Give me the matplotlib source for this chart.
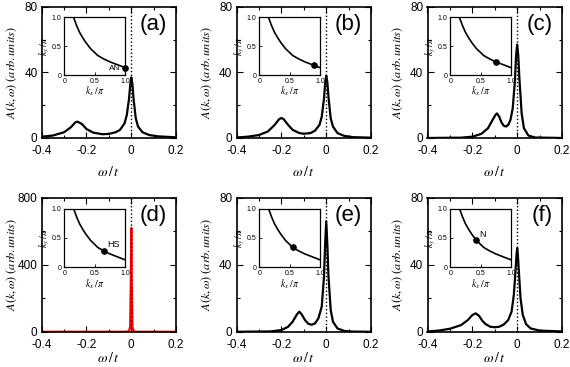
import matplotlib
matplotlib.use("Agg")
import matplotlib.pyplot as plt
from matplotlib.ticker import MultipleLocator

plt.rcParams["font.family"] = ["Liberation Sans", "DejaVu Sans"]
plt.rcParams["mathtext.fontset"] = "stix"

# spectral functions: (omega/t, A)
w_a = [-0.4, -0.35, -0.3, -0.27, -0.25, -0.24, -0.22, -0.2, -0.17, -0.13, -0.1, -0.07,
       -0.05, -0.03, -0.02, -0.01, -0.005, 0.0, 0.005, 0.01, 0.02, 0.03, 0.05, 0.08, 0.12, 0.2]
A_a = [0.8, 1.5, 3.5, 6.5, 9.5, 10, 8.5, 5.5, 3.3, 2.3, 2.5, 3.5,
       5, 9, 14, 24, 32, 37, 33, 24, 12, 7, 3.5, 1.8, 1.0, 0.4]

w_b = [-0.4, -0.35, -0.3, -0.26, -0.23, -0.21, -0.2, -0.19, -0.17, -0.15, -0.12, -0.1, -0.07,
       -0.05, -0.03, -0.02, -0.01, -0.005, 0.0, 0.005, 0.01, 0.02, 0.03, 0.05, 0.08, 0.12, 0.2]
A_b = [0.3, 0.8, 1.8, 4, 8, 11.5, 12.2, 11.5, 8, 5, 3, 2.6, 3,
       4.5, 8, 13, 24, 33, 38, 34, 25, 12, 7, 3, 1.3, 0.5, 0.2]

w_c = [-0.4, -0.25, -0.2, -0.16, -0.13, -0.11, -0.095, -0.09, -0.08, -0.07, -0.06, -0.05,
       -0.04, -0.03, -0.02, -0.01, -0.005, 0.0, 0.005, 0.01, 0.02, 0.03, 0.05, 0.08, 0.2]
A_c = [0, 0.2, 0.8, 2.5, 6, 11, 14.5, 15, 13, 9.5, 7.5, 7,
       8, 11, 18, 35, 50, 57, 50, 36, 15, 6, 1.5, 0.3, 0]

w_d = [-0.4, -0.02, -0.01, -0.005, -0.002, 0.0, 0.002, 0.005, 0.01, 0.02, 0.2]
A_d = [0, 0, 5, 30, 300, 620, 300, 30, 5, 0, 0]

w_e = [-0.4, -0.25, -0.2, -0.17, -0.15, -0.13, -0.12, -0.11, -0.095, -0.08, -0.065, -0.05,
       -0.035, -0.02, -0.01, -0.005, 0.0, 0.005, 0.01, 0.02, 0.03, 0.05, 0.08, 0.12, 0.2]
A_e = [0, 0.2, 1, 3, 6, 10.5, 12, 10.5, 7, 4.8, 4.2, 5,
       8, 15, 33, 52, 66, 52, 33, 13, 6, 2, 0.5, 0.1, 0]

w_f = [-0.4, -0.35, -0.3, -0.25, -0.22, -0.2, -0.185, -0.17, -0.155, -0.14, -0.12, -0.1, -0.08,
       -0.06, -0.04, -0.025, -0.015, -0.008, -0.003, 0.0, 0.003, 0.008, 0.015, 0.025, 0.04,
       0.06, 0.1, 0.2]
A_f = [0.2, 0.7, 1.8, 4, 7, 10, 11, 9.5, 6.5, 4.5, 3, 2.7, 3,
       4.3, 7, 12, 22, 35, 46, 50, 46, 35, 20, 10, 4.5,
       2, 0.7, 0.2]

# Fermi surface (kx/pi, ky/pi) and the k point of each panel
fs_kx = [0.15, 0.2, 0.25, 0.3, 0.35, 0.43, 0.5, 0.55, 0.65, 0.75, 0.9, 1.0]
fs_ky = [1.0, 0.86, 0.74, 0.65, 0.57, 0.46, 0.39, 0.34, 0.28, 0.23, 0.17, 0.13]

labels = ["(a)", "(b)", "(c)", "(d)", "(e)", "(f)"]
omegas = [w_a, w_b, w_c, w_d, w_e, w_f]
spectra = [A_a, A_b, A_c, A_d, A_e, A_f]
k_points = [(1.0, 0.13), (0.9, 0.17), (0.75, 0.23), (0.65, 0.28), (0.55, 0.34), (0.43, 0.46)]
k_names = ["AN", "", "", "HS", "", "N"]
ymax = [80, 80, 80, 800, 80, 80]
colors = ["black", "black", "black", "red", "black", "black"]

fig = plt.figure(figsize=(5.7, 3.67), dpi=100)
lefts = [0.073, 0.415, 0.750]
rows = [(0.624, 0.357, 5, 6), (0.096, 0.365, 5, 0)]

for i in range(6):
    row, col = divmod(i, 3)
    bottom, height, xpad, xlpad = rows[row]
    ax = fig.add_axes([lefts[col], bottom, 0.236, height])
    ax.plot(omegas[i], spectra[i], color=colors[i], lw=1.6)
    ax.axvline(0, color="black", ls=":", lw=1.0)
    ax.set_xlim(-0.4, 0.2)
    ax.set_ylim(0, ymax[i])
    ax.xaxis.set_major_locator(MultipleLocator(0.2))
    ax.xaxis.set_minor_locator(MultipleLocator(0.1))
    ax.yaxis.set_major_locator(MultipleLocator(ymax[i] / 2))
    ax.yaxis.set_minor_locator(MultipleLocator(ymax[i] / 4))
    ax.xaxis.set_major_formatter(lambda v, p: "0" if abs(v) < 1e-9 else f"{v:.1f}")
    ax.tick_params(which="both", direction="in", top=True, right=True, labelsize=8.5,
                   width=0.8, pad=3)
    ax.tick_params(axis="x", pad=xpad)
    ax.tick_params(which="major", length=4)
    ax.tick_params(which="minor", length=2.5)
    for s in ax.spines.values():
        s.set_linewidth(1.2)
    ax.set_xlabel(r"$\omega\,/\,t$", fontsize=10, labelpad=xlpad)
    ax.set_ylabel(r"$A(k,\omega)\ (arb.units)$", fontsize=8.8)
    ax.yaxis.set_label_coords(-0.165, 0.5)
    ax.text(0.93, 0.87, labels[i], transform=ax.transAxes, ha="right", va="center",
            fontsize=16)

    ins = ax.inset_axes([0.17, 0.48, 0.45, 0.44])
    ins.plot(fs_kx, fs_ky, color="black", lw=1.2)
    kx, ky = k_points[i]
    ins.plot([kx], [ky], "o", color="black", ms=3.8, clip_on=False)
    if k_names[i] == "AN":
        ins.text(0.93, 0.05, "AN", fontsize=6, ha="right", va="bottom")
    elif k_names[i]:
        ins.text(kx + 0.05, ky + 0.03, k_names[i], fontsize=6.5, ha="left", va="bottom")
    ins.set_xlim(0, 1)
    ins.set_ylim(0, 1)
    ins.set_xticks([0, 0.5, 1.0])
    ins.set_yticks([0, 0.5, 1.0])
    ins.set_xticklabels(["0", "0.5", "1.0"])
    ins.set_yticklabels(["0", "0.5", "1.0"])
    ins.tick_params(direction="in", labelsize=5, length=2, width=0.6, pad=2)
    for s in ins.spines.values():
        s.set_linewidth(0.9)
    ins.set_xlabel(r"$k_x\,/\,\pi$", fontsize=7, labelpad=0)
    ins.set_ylabel(r"$k_y\,/\,\pi$", fontsize=7, labelpad=0)

fig.savefig("out.png", dpi=100)
